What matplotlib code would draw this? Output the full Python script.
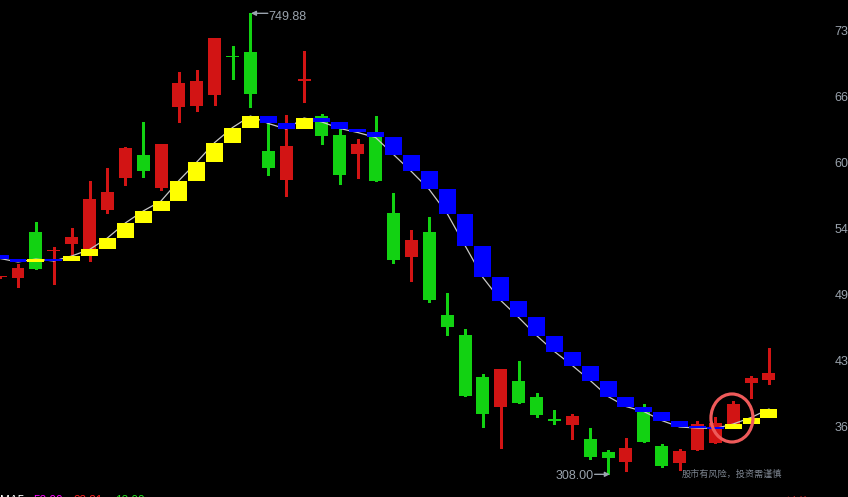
import matplotlib
matplotlib.use('Agg')
import matplotlib.pyplot as plt
from matplotlib.patches import Ellipse
import numpy as np

# ---- data (candles k = -1 .. 42) ----
opens = [496.65, 496.46, 540.26, 521.57, 528.76, 523.96, 561.63, 592.30, 614.06, 582.72,
         660.36, 661.32, 671.86, 708.00, 712.79, 617.90, 590.10, 685.47, 651.44, 633.23,
         615.02, 633.23, 558.47, 516.30, 540.26, 460.70, 441.53, 401.28, 372.52, 397.44,
         382.11, 360.06, 355.27, 341.85, 329.39, 319.80, 370.60, 335.14, 318.84, 331.30,
         338.30, 356.23, 395.52, 398.40]
highs = [498.08, 509.87, 549.84, 525.88, 544.09, 589.14, 601.60, 621.73, 645.69, 624.61,
         693.62, 695.53, 726.21, 718.54, 749.88, 645.69, 652.40, 713.75, 653.36, 639.94,
         629.40, 651.44, 577.64, 542.17, 554.63, 481.79, 447.28, 404.15, 408.94, 416.61,
         385.94, 369.64, 365.81, 352.39, 331.30, 342.81, 375.40, 337.06, 332.26, 359.10,
         362.94, 378.27, 402.23, 429.07]
lows = [496.17, 487.83, 505.08, 490.70, 517.25, 512.75, 558.76, 585.60, 593.26, 580.80,
        645.98, 656.52, 662.28, 686.91, 660.36, 594.89, 574.76, 665.15, 624.61, 586.55,
        592.02, 589.14, 510.54, 493.29, 473.16, 441.53, 383.06, 353.35, 333.22, 376.35,
        362.94, 356.23, 341.85, 322.68, 308.00, 311.18, 338.97, 315.01, 312.13, 331.30,
        338.30, 356.23, 381.15, 394.57]
closes = [497.13, 505.75, 505.08, 522.05, 535.47, 571.89, 578.60, 620.77, 599.01, 624.61,
          683.07, 684.99, 726.21, 707.52, 672.53, 601.89, 622.69, 685.95, 632.27, 594.89,
          624.61, 589.14, 513.42, 532.59, 475.08, 449.20, 383.06, 365.81, 408.94, 376.35,
          364.85, 359.58, 363.89, 324.60, 323.64, 333.22, 338.97, 315.97, 330.35, 356.23,
          357.18, 375.40, 400.32, 405.11]
# moving average at candles k = -2 .. 42
ma_values = [518.21, 514.86, 511.50, 514.38, 512.46, 517.25, 523.49, 534.51, 548.88, 560.39,
             569.97, 589.62, 607.35, 626.04, 640.42, 651.44, 644.26, 638.98, 649.53, 645.69,
             639.46, 635.63, 630.84, 614.54, 598.25, 581.00, 557.99, 527.32, 496.65, 474.60,
             458.31, 441.05, 425.72, 412.30, 397.92, 382.58, 373.00, 368.21, 359.58, 353.35,
             352.39, 351.91, 356.23, 362.46, 370.60]
ytick_values = [733.87, 670.61, 607.35, 544.09, 480.83, 417.57, 354.31]
ytick_labels = ['73', '66', '60', '54', '49', '43', '36']
high_label = '749.88'
low_label = '308.00'
risk_text = '股市有风险，投资需谨慎'
bottom_labels = ['MA5', '53.00', '23.21', '13.00']

RED = '#d21414'
GREEN = '#12d212'
YELLOW = '#ffff00'
BLUE = '#0000ff'
GRAY = '#9aa3ad'

fig = plt.figure(figsize=(8.48, 4.97), dpi=100, facecolor='black')
ax = fig.add_axes([0, 0, 1, 1], facecolor='black')

xs = np.arange(len(opens)) - 1
o = np.array(opens); h = np.array(highs); l = np.array(lows); c = np.array(closes)
up = c >= o
cols = [RED if u else GREEN for u in up]

# wicks
ax.vlines(xs, l, h, colors=cols, linewidth=1.0, zorder=1, antialiased=False)
# bodies
bottoms = np.minimum(o, c)
heights = np.maximum(np.abs(c - o), 1.0)
ax.bar(xs, heights, width=0.727, bottom=bottoms, color=cols, linewidth=0, zorder=2)

# MA line
ma = np.array(ma_values)
xm = np.arange(len(ma)) - 2
ax.plot(xm, ma, color='#c8c8c8', linewidth=0.9, zorder=2.5)

# MA blocks
prev = ma[:-1]; cur = ma[1:]
xb = xm[1:]
bcols = [YELLOW if cu > pr else BLUE for pr, cu in zip(prev, cur)]
ax.bar(xb, np.maximum(np.abs(cur - prev), 1.8), width=0.95,
       bottom=np.minimum(prev, cur), color=bcols, linewidth=0, zorder=3)

# high / low annotations
k_hi = int(np.argmax(h)); k_lo = int(np.argmin(l))
x_hi = xs[k_hi]; x_lo = xs[k_lo]
ax.annotate('', xy=(x_hi + 0.03, h[k_hi]), xytext=(x_hi + 0.97, h[k_hi]),
            arrowprops=dict(arrowstyle='-|>', color=GRAY, lw=1.0, mutation_scale=7,
                            shrinkA=0, shrinkB=0), zorder=4)
ax.text(x_hi + 1.0, h[k_hi] - 3.8, high_label, color=GRAY, fontsize=9,
        family='Liberation Sans', ha='left', va='center', zorder=4)
ax.annotate('', xy=(x_lo + 0.1, l[k_lo]), xytext=(x_lo - 0.75, l[k_lo]),
            arrowprops=dict(arrowstyle='-|>', color=GRAY, lw=1.0, mutation_scale=7,
                            shrinkA=0, shrinkB=0), zorder=4)
ax.text(x_lo - 0.82, l[k_lo] - 1.6, low_label, color=GRAY, fontsize=9,
        family='Liberation Sans', ha='right', va='center', zorder=4)

# highlight circle
ax.add_patch(Ellipse((39.93, 362.0), width=2.35, height=46, fill=False,
                     edgecolor='#ee5a5a', linewidth=2.3, zorder=5))

ax.set_xlim(-1.0067, 46.42)
ax.set_ylim(286.26, 762.63)
ax.yaxis.tick_right()
ax.set_yticks(ytick_values)
ax.set_yticklabels(ytick_labels, family='Liberation Sans', fontsize=9, color=GRAY)
ax.tick_params(axis='y', length=0, pad=-9.6)
ax.set_xticks([])
for s in ax.spines.values():
    s.set_visible(False)

fig.text(682 / 848, 1 - 474 / 497, risk_text, color='#7d8590', fontsize=6.6,
         family=['Noto Sans CJK SC', 'DejaVu Sans'], ha='left', va='center')

bx = [0, 33, 73, 115]
bc = ['#ffffff', '#ff00ff', '#ff2020', '#20e020']
for t, xx, cc in zip(bottom_labels, bx, bc):
    fig.text(xx / 848, 1 - 495.5 / 497, t, color=cc, fontsize=8.5,
             family='Liberation Sans', ha='left', va='top')
fig.text(787 / 848, 1 - 495.5 / 497, '涨停', color='#ff2020', fontsize=8.5,
         family=['Noto Sans CJK SC', 'DejaVu Sans'], ha='left', va='top')

fig.savefig('out.png', dpi=100, facecolor='black')
